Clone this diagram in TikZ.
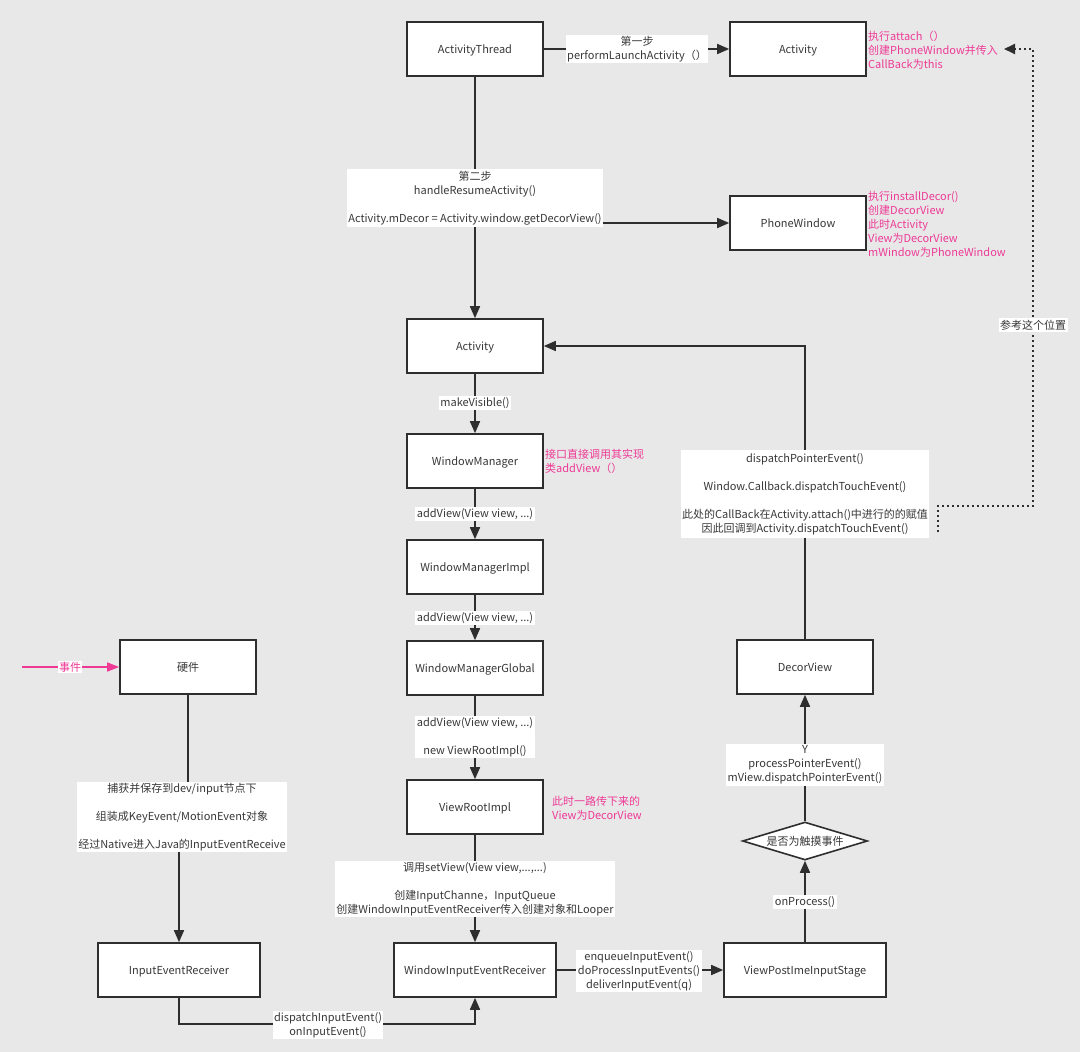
\documentclass[tikz,border=0pt]{standalone}
\usepackage{fontspec}
\setmainfont{Noto Sans CJK SC}
\usetikzlibrary{arrows.meta,shapes.geometric}
\definecolor{bgc}{HTML}{E8E8E9}
\definecolor{pinkc}{HTML}{EE3A95}
\definecolor{txtc}{HTML}{383838}
\definecolor{linec}{HTML}{2E2E2E}
\tikzset{
  box/.style={draw=linec, line width=1.6pt, fill=white, minimum width=136pt, minimum height=54pt, inner sep=2pt, text height=11pt, text depth=2pt, font=\fontsize{11}{13}\selectfont, text=txtc},
  widebox/.style={box, minimum width=162pt},
  lbl/.style={fill=white, inner sep=1.5pt, align=center, font=\fontsize{11}{14}\selectfont, text=txtc},
  note/.style={text=pinkc, align=left, anchor=west, inner sep=0pt, font=\fontsize{11}{14}\selectfont},
  conn/.style={line width=1.6pt, draw=linec, -{Triangle[length=12pt,width=10pt]}},
  dotconn/.style={line width=1.8pt, draw=linec, dash pattern=on 2pt off 3pt, -{Triangle[length=11pt,width=10pt]}},
}
\begin{document}
\begin{tikzpicture}[x=1pt,y=-1pt]
\fill[bgc] (0,0) rectangle (1080,1052);
\useasboundingbox (0,0) rectangle (1080,1052);

% boxes
\node[box] (at1) at (475,49) {ActivityThread};
\node[box] (act1) at (798,49) {Activity};
\node[box] (pw) at (798,223) {PhoneWindow};
\node[box] (act2) at (475,346) {Activity};
\node[box] (wm) at (475,461) {WindowManager};
\node[box] (wmi) at (475,567) {WindowManagerImpl};
\node[box] (wmg) at (475,668) {WindowManagerGlobal};
\node[box] (vri) at (475,807) {ViewRootImpl};
\node[widebox] (wier) at (475,970) {WindowInputEventReceiver};
\node[widebox] (ier) at (179,970) {InputEventReceiver};
\node[box] (hw) at (188,667) {硬件};
\node[box] (dv) at (805,667) {DecorView};
\node[diamond, draw=linec, line width=1.6pt, fill=white, aspect=3.3, inner sep=0pt, minimum width=125pt, minimum height=38pt, text height=10pt, text depth=2pt, font=\fontsize{11}{13}\selectfont, text=txtc] (dia) at (805,841) {是否为触摸事件};
\node[widebox] (vpis) at (805,970) {ViewPostImeInputStage};

% helper coordinates
\coordinate (br) at (475,223);
\coordinate (hwj1) at (188,817);
\coordinate (hwj2) at (179,817);
\coordinate (bl) at (179,1024);
\coordinate (brr) at (475,1024);
\coordinate (dvup) at (805,346);
\coordinate (ev) at (22,667);
\coordinate (d0) at (938,532);
\coordinate (d1) at (938,506);
\coordinate (d2) at (1033,506);
\coordinate (d3) at (1033,49);
\coordinate (d4) at (1004,49);

% connectors
\draw[conn] (at1) -- (act1);
\draw[conn] (at1) -- (act2);
\draw[conn] (br) -- (pw.west);
\draw[conn] (act2) -- (wm);
\draw[conn] (wm) -- (wmi);
\draw[conn] (wmi) -- (wmg);
\draw[conn] (wmg) -- (vri);
\draw[conn] (vri) -- (wier);
\draw[conn] (hw.south) -- (hwj1) -- (hwj2) -- (ier.north);
\draw[conn] (ier.south) -- (bl) -- (brr) -- (wier.south);
\draw[conn] (wier) -- (vpis);
\draw[conn] (vpis) -- (dia);
\draw[conn] (dia) -- (dv);
\draw[conn] (dv.north) -- (dvup) -- (act2.east);
\draw[line width=1.3pt, draw=pinkc, -{Triangle[length=12pt,width=9pt]}] (ev) -- (hw.west);
\draw[dotconn] (d0) -- (d1) -- (d2) -- (d3) -- (d4);

% labels
\node[lbl] (l1) at (637,49) {第一步\\performLaunchActivity（）};
\node[lbl, inner xsep=1pt] (l2) at (475,198) {第二步\\handleResumeActivity()\\[14pt]Activity.mDecor = Activity.window.getDecorView()};
\node[lbl] (l3) at (475,403) {makeVisible()};
\node[lbl] (l4) at (475,514) {addView(View view, ...)};
\node[lbl] (l5) at (475,618) {addView(View view, ...)};
\node[lbl] (l6) at (475,737) {addView(View view, ...)\\[14pt]new ViewRootImpl()};
\node[lbl] (l7) at (475,889) {调用setView(View view,...,...)\\[14pt]创建InputChanne，InputQueue\\创建WindowInputEventReceiver传入创建对象和Looper};
\node[lbl] (l8) at (182,817) {捕获并保存到dev/input节点下\\[14pt]组装成KeyEvent/MotionEvent对象\\[14pt]经过Native进入Java的InputEventReceive};
\node[lbl] (l9) at (328,1025) {dispatchInputEvent()\\onInputEvent()};
\node[lbl] (l10) at (639,971) {enqueueInputEvent()\\doProcessInputEvents()\\deliverInputEvent(q)};
\node[lbl] (l11) at (805,902) {onProcess()};
\node[lbl] (l12) at (805,765) {Y\\processPointerEvent()\\mView.dispatchPointerEvent()};
\node[lbl, inner ysep=3pt] (l13) at (805,494) {dispatchPointerEvent()\\[14pt]Window.Callback.dispatchTouchEvent()\\[14pt]此处的CallBack在Activity.attach()中进行的的赋值\\因此回调到Activity.dispatchTouchEvent()};
\node[lbl] (l14) at (1033,325) {参考这个位置};
\node[lbl, text=pinkc, inner sep=1pt] (l15) at (70,667) {事件};

% notes
\node[note] (n1) at (868,50) {执行attach（）\\创建PhoneWindow并传入\\CallBack为this};
\node[note] (n2) at (868,224) {执行installDecor()\\创建DecorView\\此时Activity\\View为DecorView\\mWindow为PhoneWindow};
\node[note] (n3) at (545,461) {接口直接调用其实现\\类addView（）};
\node[note] (n4) at (552,808) {此时一路传下来的\\View为DecorView};
\end{tikzpicture}
\end{document}
